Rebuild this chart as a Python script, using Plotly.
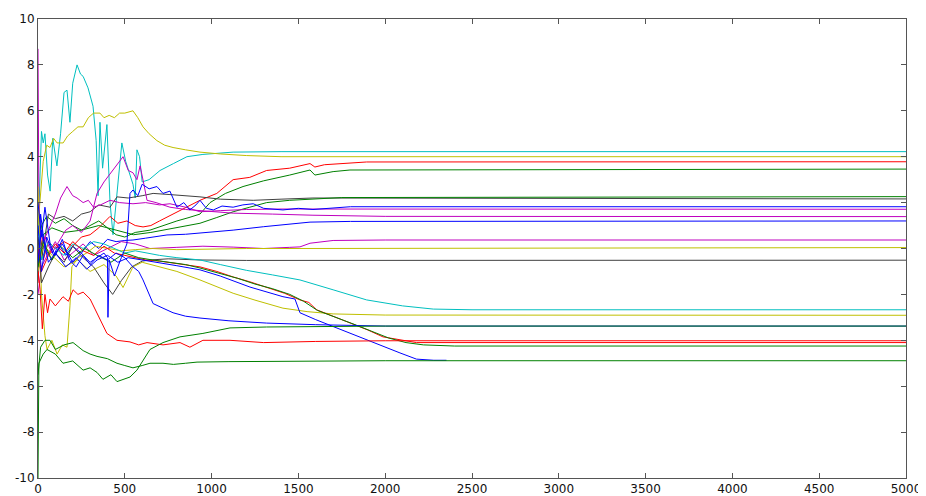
import plotly.graph_objects as go

# Colours (classic MATLAB order)
C_B = "#0000ff"
C_G = "#008000"
C_R = "#ff0000"
C_C = "#00bfbf"
C_M = "#bf00bf"
C_Y = "#bfbf00"
C_K = "#404040"

X_TICKS = [0, 500, 1000, 1500, 2000, 2500, 3000, 3500, 4000, 4500, 5000]
Y_TICKS = [-10, -8, -6, -4, -2, 0, 2, 4, 6, 8, 10]

# each series: (x, y) pairs
cyan_top = [(0, 0.5), (10, 3.0), (20, 5.1), (30, 4.6), (40, 5.0), (55, 3.2), (70, 2.5), (85, 4.8),
            (109, 3.6), (130, 5.0), (150, 6.8), (167, 6.9), (184, 5.5), (200, 7.2), (225, 8.0),
            (245, 7.6), (260, 7.5), (288, 7.0), (317, 6.2), (335, 4.7), (346, 2.3), (357, 5.5),
            (372, 3.5), (397, 5.4), (415, 2.0), (432, 0.6), (455, 2.5), (483, 4.6), (505, 3.8),
            (530, 3.2), (547, 2.8), (560, 2.2), (570, 4.3), (585, 4.0), (600, 2.9), (640, 3.0),
            (703, 3.4), (780, 3.7), (858, 4.0), (950, 4.1), (1124, 4.2), (1400, 4.22), (5000, 4.22)]
yellow_top = [(0, 1.0), (15, 2.5), (30, 3.8), (50, 4.5), (69, 4.4), (90, 4.8), (110, 4.6), (145, 4.6),
              (170, 4.9), (200, 5.1), (230, 5.3), (260, 5.3), (290, 5.7), (320, 5.9), (357, 5.9),
              (380, 5.7), (410, 5.8), (440, 5.7), (470, 5.9), (500, 5.9), (547, 6.0), (575, 5.7),
              (605, 5.3), (640, 5.0), (685, 4.7), (730, 4.5), (778, 4.4), (850, 4.3), (933, 4.2),
              (1050, 4.12), (1200, 4.05), (1400, 4.0), (5000, 4.0)]
red_up = [(0, -1.5), (15, 0.5), (30, -0.5), (60, 0.3), (100, 0.0), (150, 0.3), (200, 0.1), (250, 0.5),
          (300, 0.6), (350, 0.9), (415, 1.4), (460, 1.1), (512, 1.2), (560, 1.0), (605, 0.94),
          (650, 1.0), (700, 1.2), (778, 1.5), (850, 1.8), (933, 2.1), (1030, 2.4), (1124, 3.0),
          (1220, 3.1), (1317, 3.4), (1450, 3.5), (1567, 3.7), (1595, 3.55), (1650, 3.65),
          (1893, 3.77), (5000, 3.78)]
green_up = [(0, -0.5), (20, 1.0), (50, 1.4), (100, 1.1), (150, 1.3), (200, 1.0), (250, 0.8), (300, 1.0),
            (350, 1.2), (400, 0.9), (450, 0.6), (500, 0.5), (560, 0.7), (645, 0.8), (720, 1.0),
            (800, 1.2), (870, 1.35), (933, 1.5), (991, 2.0), (1080, 2.4), (1181, 2.7), (1300, 2.95),
            (1450, 3.2), (1567, 3.42), (1595, 3.2), (1700, 3.35), (1797, 3.42), (5000, 3.46)]
black_top = [(0, 0.5), (20, -0.5), (60, 1.5), (100, 1.3), (150, 1.4), (200, 1.2), (250, 1.5),
             (300, 1.6), (350, 1.9), (415, 1.8), (455, 2.25), (520, 2.2), (600, 2.3), (663, 2.4),
             (760, 2.35), (850, 2.3), (933, 2.25), (1050, 2.15), (1240, 2.1), (1400, 2.15),
             (1584, 2.2), (5000, 2.16)]
green_mid = [(0, -1.0), (30, 0.6), (80, 0.9), (150, 0.7), (250, 0.8), (350, 1.0), (450, 0.8),
             (550, 0.6), (650, 0.7), (750, 0.85), (850, 1.0), (933, 1.1), (1030, 1.35), (1124, 1.6),
             (1220, 1.8), (1317, 2.0), (1450, 2.1), (1600, 2.15), (1750, 2.22), (5000, 2.26)]
blue_jag = [(0, 2.0), (20, 0.5), (40, 1.8), (70, 0.2), (100, -0.3), (140, 0.4), (180, -0.5),
            (220, -0.8), (260, -0.3), (300, -0.6), (340, -0.4), (380, -0.2), (400, -0.4), (403, -3.0),
            (410, -0.5), (440, -1.2), (480, -0.4), (505, 0.1), (512, 0.2), (530, 2.4), (547, 2.55),
            (575, 2.3), (600, 2.8), (640, 2.6), (685, 2.7), (720, 2.4), (760, 2.5), (800, 1.8),
            (840, 2.0), (875, 1.68), (910, 1.9), (933, 2.1), (970, 1.75), (1010, 1.68), (1060, 1.85),
            (1124, 1.8), (1180, 1.9), (1240, 1.95), (1300, 1.75), (1411, 1.68), (1500, 1.75),
            (1584, 1.7), (1800, 1.82), (5000, 1.82)]
magenta_mid = [(0, 1.0), (30, 0.3), (60, 0.8), (100, 1.5), (130, 2.2), (167, 2.7), (200, 2.3),
               (225, 2.2), (260, 2.0), (290, 2.1), (320, 1.8), (360, 1.9), (415, 2.1), (470, 2.0),
               (547, 1.95), (620, 2.0), (700, 1.9), (760, 1.95), (850, 1.8), (933, 1.6),
               (1050, 1.65), (1200, 1.7), (1400, 1.72), (5000, 1.71)]
magenta_spike = [(0, 8.7), (5, 2.0), (15, 0.0), (40, 0.5), (80, -0.2), (120, 0.3), (160, 0.8),
                 (200, 1.0), (250, 0.7), (300, 1.2), (340, 2.4), (380, 2.9), (420, 3.3), (455, 3.7),
                 (490, 4.0), (520, 3.4), (547, 3.3), (570, 3.0), (588, 3.6), (610, 2.8), (628, 2.1),
                 (680, 2.0), (760, 1.8), (850, 1.7), (1000, 1.6), (1124, 1.54), (1350, 1.5),
                 (1584, 1.45), (2000, 1.4), (5000, 1.39)]
blue_low = [(0, -1.0), (15, 1.5), (40, 0.0), (80, -0.5), (120, 0.2), (160, -0.3), (200, 0.1),
            (250, -0.2), (300, 0.3), (350, 0.0), (400, 0.4), (450, 0.3), (500, 0.35), (547, 0.37),
            (620, 0.45), (743, 0.59), (850, 0.62), (933, 0.67), (1030, 0.75), (1124, 0.8),
            (1300, 0.95), (1450, 1.05), (1567, 1.15), (1800, 1.18), (5000, 1.2)]
magenta_zero = [(0, -2.0), (20, -0.8), (60, -0.2), (100, 0.3), (150, -0.5), (200, -0.2), (260, 0.2),
                (320, -0.3), (400, 0.0), (480, 0.3), (560, 0.2), (645, 0.0), (800, 0.05), (950, 0.1),
                (1124, 0.06), (1300, 0.0), (1450, 0.05), (1509, 0.07), (1567, 0.23), (1700, 0.35),
                (2000, 0.37), (5000, 0.37)]
yellow_zero = [(0, 2.7), (20, -2.0), (40, -3.8), (52, -4.4), (80, -4.0), (110, -4.6), (140, -4.2),
               (167, -4.3), (184, -2.5), (195, -0.8), (230, -0.4), (280, -0.2), (330, 0.1), (400, 0.0),
               (480, -0.1), (560, -0.05), (660, 0.0), (800, -0.05), (1000, -0.02), (1200, 0.0),
               (1509, 0.0), (5000, 0.04)]
black_neg = [(0, 0.5), (20, -1.5), (60, -0.8), (100, -0.2), (150, -0.6), (200, 0.1), (260, -0.4),
             (320, -0.8), (380, -1.5), (430, -2.0), (480, -1.4), (540, -0.8), (600, -0.55),
             (645, -0.5), (750, -0.45), (933, -0.5), (1200, -0.52), (5000, -0.51)]
cyan_down = [(0, 1.0), (20, -0.5), (60, 0.3), (100, 0.0), (150, -0.3), (200, 0.2), (260, 0.0),
             (320, 0.3), (380, 0.2), (440, 0.0), (500, -0.2), (560, -0.1), (620, -0.2), (700, -0.3),
             (800, -0.4), (933, -0.5), (1050, -0.7), (1200, -0.95), (1350, -1.15), (1509, -1.37),
             (1700, -1.8), (1893, -2.24), (2100, -2.5), (2277, -2.64), (2500, -2.67), (5000, -2.67)]
yellow_down = [(0, -1.0), (30, 0.2), (80, -0.3), (150, -0.8), (230, -0.5), (300, -1.0), (380, -0.7),
               (450, -1.2), (490, -1.7), (547, -0.8), (600, -0.6), (700, -0.8), (800, -1.0),
               (933, -1.37), (1124, -1.95), (1250, -2.25), (1411, -2.6), (1550, -2.75),
               (1700, -2.85), (2000, -2.9), (5000, -2.91)]
red_desc = [(0, 0.0), (20, -1.0), (60, -0.3), (100, 0.2), (150, -0.2), (200, 0.3), (260, -0.1),
            (320, -0.3), (380, 0.1), (440, -0.2), (500, -0.3), (560, -0.4), (620, -0.5), (700, -0.55),
            (800, -0.65), (933, -0.8), (1030, -1.0), (1124, -1.24), (1220, -1.45), (1317, -1.68),
            (1420, -1.95), (1509, -2.24), (1560, -2.35), (1605, -2.67), (1700, -2.95), (1797, -3.25),
            (1900, -3.55), (1987, -3.85), (2100, -4.0), (2180, -4.1), (5000, -4.1)]
green_desc = [(0, -0.8), (30, 0.3), (80, -0.5), (130, 0.1), (200, -0.4), (270, 0.0), (340, -0.3),
              (420, -0.6), (500, -0.2), (580, -0.4), (660, -0.5), (750, -0.6), (850, -0.7),
              (933, -0.85), (1050, -1.1), (1150, -1.3), (1250, -1.55), (1350, -1.75), (1450, -2.0),
              (1530, -2.3), (1610, -2.7), (1720, -3.0), (1820, -3.3), (1920, -3.6), (2020, -3.9),
              (2120, -4.1), (2220, -4.2), (2400, -4.25), (5000, -4.25)]
blue_desc = [(0, -0.5), (20, 0.8), (60, -0.6), (100, -0.2), (160, -0.8), (220, -0.4), (280, -0.9),
             (340, -0.5), (400, -0.3), (460, -0.6), (520, -0.4), (600, -0.5), (700, -0.6),
             (800, -0.75), (933, -0.93), (1050, -1.2), (1221, -1.68), (1320, -1.9), (1411, -2.1),
             (1480, -2.2), (1509, -2.8), (1600, -3.1), (1700, -3.4), (1800, -3.7), (1893, -4.0),
             (2000, -4.3), (2085, -4.55), (2180, -4.82), (2280, -4.87), (2353, -4.87)]
blue_mid = [(0, 1.0), (20, -1.0), (50, 0.5), (90, -0.3), (140, 0.2), (200, -0.6), (250, -0.2),
            (300, -0.7), (350, -0.3), (400, -0.5), (450, -0.2), (500, -0.4), (547, -0.8), (580, -1.0),
            (605, -1.37), (640, -2.0), (663, -2.4), (720, -2.6), (778, -2.8), (850, -2.95),
            (933, -3.03), (1100, -3.15), (1317, -3.25), (1600, -3.32), (2000, -3.38), (5000, -3.38)]
red_flat = [(0, -1.0), (12, -1.8), (25, -3.5), (40, -2.0), (55, -2.8), (69, -2.2), (100, -2.5),
            (144, -2.1), (175, -2.3), (202, -1.8), (230, -2.0), (260, -1.9), (300, -2.2), (340, -2.8),
            (397, -3.7), (455, -4.0), (530, -4.07), (580, -4.2), (628, -4.1), (720, -4.2),
            (818, -4.1), (875, -4.3), (950, -4.0), (1106, -4.0), (1300, -4.1), (1600, -4.05),
            (2000, -4.02), (5000, -4.02)]
green_low1 = [(0, -10.0), (5, -5.0), (30, -4.6), (52, -4.4), (100, -4.6), (144, -5.0), (200, -4.9),
              (260, -5.3), (300, -5.2), (340, -5.4), (374, -5.7), (420, -5.5), (455, -5.8),
              (490, -5.7), (530, -5.6), (570, -5.3), (605, -4.86), (645, -4.4), (720, -4.1),
              (818, -3.85), (950, -3.7), (1106, -3.46), (1317, -3.42), (1509, -3.4), (2000, -3.38),
              (5000, -3.38)]
green_low2 = [(0, -5.5), (15, -4.3), (40, -4.0), (69, -4.0), (100, -4.4), (150, -4.2), (202, -4.1),
              (260, -4.45), (300, -4.6), (340, -4.7), (400, -4.8), (455, -5.0), (500, -5.1),
              (547, -5.2), (600, -5.1), (645, -5.0), (720, -5.0), (780, -5.05), (850, -5.0),
              (916, -4.95), (1100, -4.93), (1300, -4.92), (1509, -4.9), (2000, -4.89), (5000, -4.89)]

SERIES = [
    (cyan_top, C_C), (yellow_top, C_Y), (red_up, C_R), (green_up, C_G), (black_top, C_K),
    (green_mid, C_G), (magenta_mid, C_M), (magenta_spike, C_M), (blue_low, C_B),
    (magenta_zero, C_M), (yellow_zero, C_Y), (black_neg, C_K), (cyan_down, C_C),
    (yellow_down, C_Y), (red_desc, C_R), (green_desc, C_G), (blue_desc, C_B), (blue_mid, C_B),
    (red_flat, C_R), (green_low1, C_G), (green_low2, C_G), (blue_jag, C_B),
]

fig = go.Figure()
for pts, col in SERIES:
    fig.add_trace(go.Scatter(
        x=[p[0] for p in pts], y=[p[1] for p in pts], mode="lines",
        line=dict(color=col, width=1), showlegend=False, hoverinfo="skip"))

axis_common = dict(
    showline=True, linecolor="#555555", linewidth=1, mirror="ticks",
    ticks="inside", ticklen=5, tickcolor="#555555", tickwidth=1,
    showgrid=False, zeroline=False, automargin=False,
    tickfont=dict(family="DejaVu Sans, Liberation Sans, sans-serif", size=12, color="#111111"),
)
fig.update_xaxes(range=[0, 5000], tickmode="array", tickvals=X_TICKS,
                 ticktext=[str(v) for v in X_TICKS], **axis_common)
fig.update_yaxes(range=[-10, 10], tickmode="array", tickvals=Y_TICKS,
                 ticktext=[str(v) for v in Y_TICKS], **axis_common)

# the page body adds an 8px offset, so the figure is sized to fit inside the window
fig.update_layout(
    width=918, height=488,
    margin=dict(l=30, r=20, t=11, b=18),
    paper_bgcolor="white", plot_bgcolor="white",
    showlegend=False,
)

fig.write_html("out.html", config={"displayModeBar": False})
